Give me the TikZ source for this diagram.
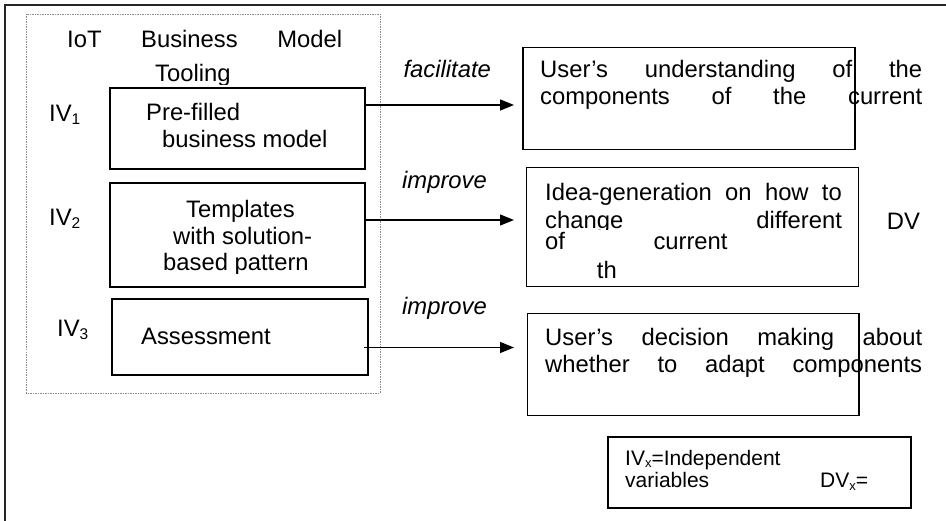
\documentclass[tikz,border=0pt]{standalone}
\usepackage{fontspec}
\setmainfont{Liberation Sans}
\usetikzlibrary{arrows.meta}
\newcommand{\subsc}[1]{\raisebox{-3pt}{\fontsize{15.5}{15}\selectfont #1}}
\newcommand{\subsm}[1]{\raisebox{-2.5pt}{\fontsize{13}{13}\selectfont #1}}
\begin{document}
\begin{tikzpicture}[x=1pt,y=-1pt,
  txt/.style={font=\fontsize{23.8}{27}\selectfont, inner sep=0pt, anchor=base west},
  itxt/.style={txt, font=\fontsize{23.8}{27}\selectfont\itshape},
  smalltxt/.style={font=\fontsize{21}{23}\selectfont, inner sep=0pt, anchor=base west},
  lbox/.style={draw=black, line width=1.8pt, inner sep=0pt, anchor=north west},
  rbox/.style={draw=black, line width=1.2pt, inner sep=0pt, anchor=north west},
  arr/.style={draw=black, line width=1.3pt, -{Triangle[length=14pt,width=11pt]}}
]
\useasboundingbox (0,0) rectangle (946,521);
\clip (0,0) rectangle (946,521);
% outer frame (right and bottom edges lie outside the picture)
\draw[line width=1.6pt, draw=black!85] (990,5) -- (5,5) -- (5,560);
% dashed tooling frame
\draw[line width=0.7pt, draw=black!45, dash pattern=on 1.5pt off 1pt] (26.7,14) rectangle (380,393);

% left boxes
\node[lbox, minimum width=255pt, minimum height=81pt] (b1) at (109,87) {};
\node[lbox, minimum width=255pt, minimum height=104pt] (b2) at (109,182) {};
\node[lbox, minimum width=256pt, minimum height=76pt] (b3) at (111,298) {};

% heading
\node[txt] (head1) at (67,48) {\hbox to 275pt{IoT\hfill Business\hfill Model}};
\begin{scope}
\clip (100,55) rectangle (300,84.3);
\node[txt] (head2) at (155,82) {Tooling};
\end{scope}

% IV labels
\node[txt] (iv1) at (49,122) {IV\subsc{1}};
\node[txt] (iv2) at (49,226) {IV\subsc{2}};
\node[txt] (iv3) at (57,337) {IV\subsc{3}};

% box texts
\node[txt] (t1a) at (146,121) {Pre-filled};
\node[txt] (t1b) at (162,148) {business model};
\node[txt] (t2a) at (186,218) {Templates};
\node[txt] (t2b) at (173,245) {with solution-};
\begin{scope}
\clip (120,250) rectangle (360,274);
\node[txt] (t2c) at (163,270.7) {based pattern};
\end{scope}
\node[txt] (t3a) at (141,345) {Assessment};

% right boxes
\node[rbox, minimum width=332pt, minimum height=102pt] (r1) at (522.3,47.3) {};
\node[rbox, minimum width=332pt, minimum height=118.7pt] (r2) at (525.7,167.3) {};
\node[rbox, minimum width=331.6pt, minimum height=101.7pt] (r3) at (526.7,313.3) {};

% arrows
\coordinate (a1s) at (364,105);
\coordinate (a2s) at (364,220);
\coordinate (a3s) at (364,347.5);
\draw[arr, shorten >=8.3pt] (a1s) -- (r1.west |- a1s);
\draw[arr, shorten >=11.7pt] (a2s) -- (r2.west |- a2s);
\draw[arr, shorten >=12.7pt] (a3s) -- (r3.west |- a3s);

% arrow labels
\node[itxt] (l1) at (403.4,77.3) {facilitate};
\node[itxt] (l2) at (402,188.3) {improve};
\node[itxt] (l3) at (402,315) {improve};

% right box texts
\node[txt] (r1a) at (540,77.3) {\hbox to 382pt{User’s\hfill understanding\hfill of\hfill the}};
\node[txt] (r1b) at (540,104.3) {\hbox to 382pt{components\hfill of\hfill the\hfill current}};

\node[txt] (r2a) at (545,201) {\hbox to 296.7pt{Idea-generation\hfill on\hfill how\hfill to}};
\begin{scope}
\clip (540,205) rectangle (850,230);
\node[txt] (r2b) at (545,228.3) {\hbox to 296.7pt{change\hfill different}};
\end{scope}
\node[txt] (r2c) at (545,250) {of};
\node[txt] (r2d) at (653.3,250) {current};
\node[txt] (r2e) at (596.7,278.3) {th};
\node[txt] (dv) at (886.7,229.3) {DV};

\node[txt] (r3a) at (545,345.7) {\hbox to 377pt{User’s\hfill decision\hfill making\hfill about}};
\node[txt] (r3b) at (545,372.3) {\hbox to 377pt{whether\hfill to\hfill adapt\hfill components}};

% legend
\node[lbox, minimum width=302.7pt, minimum height=70.7pt] (leg) at (607.3,436) {};
\node[smalltxt] (lega) at (625,465) {IV\subsm{x}=Independent};
\node[smalltxt] (legb) at (625,487.7) {variables};
\node[smalltxt] (legc) at (820,487.7) {DV\subsm{x}=};
\end{tikzpicture}
\end{document}
